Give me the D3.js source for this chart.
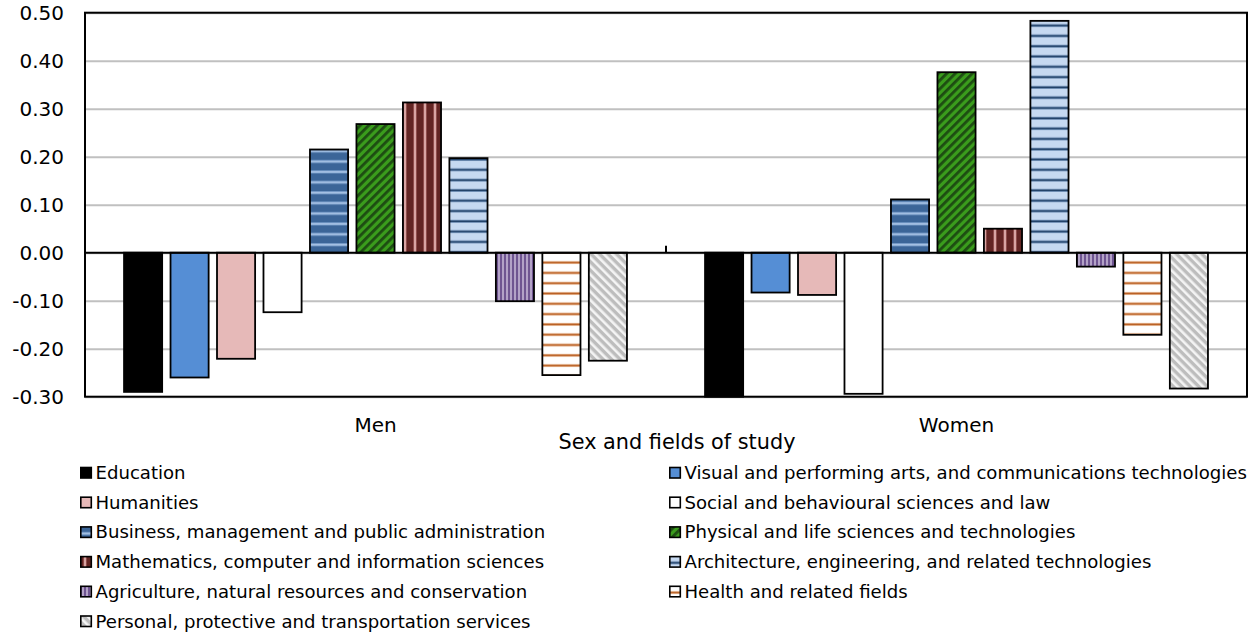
<!DOCTYPE html>
<html>
<head>
<meta charset="utf-8">
<script src="https://cdn.jsdelivr.net/npm/d3@7"></script>
<style>
  body { margin: 0; background: #fff; }
  text { font-family: "DejaVu Sans", Verdana, sans-serif; fill: #000; }
</style>
</head>
<body>
<div id="chart"></div>
<script>
// data
const groups = ["Men", "Women"];
const fields = [
    "Education",
    "Visual and performing arts, and communications technologies",
    "Humanities",
    "Social and behavioural sciences and law",
    "Business, management and public administration",
    "Physical and life sciences and technologies",
    "Mathematics, computer and information sciences",
    "Architecture, engineering, and related technologies",
    "Agriculture, natural resources and conservation",
    "Health and related fields",
    "Personal, protective and transportation services"
];
const menValues = [-0.290, -0.260, -0.221, -0.124, 0.215, 0.268, 0.313, 0.197, -0.101, -0.255, -0.225];
const womenValues = [-0.300, -0.083, -0.088, -0.294, 0.111, 0.376, 0.050, 0.483, -0.029, -0.171, -0.283];
const yTicks = [-0.3, -0.2, -0.1, 0, 0.1, 0.2, 0.3, 0.4, 0.5];
const xTitle = "Sex and fields of study";

const W = 1260, H = 635;
const plot = {l: 85, r: 1247, t: 12.7, b: 396.7};

const svg = d3.select("#chart").append("svg")
    .attr("width", W)
    .attr("height", H);

//Patterns, one per field
const defs = svg.append("defs");
function pat(id, w, h, rot) {
    let p = defs.append("pattern")
        .attr("id", id)
        .attr("patternUnits", "userSpaceOnUse")
        .attr("width", w)
        .attr("height", h);
    if (rot) p.attr("patternTransform", `rotate(${rot})`);
    return p;
}
// business: dark blue, light horizontal stripes
let p = pat("pBus", 10, 10.4);
p.append("rect").attr("width", 10).attr("height", 10.4).attr("fill", "#3b6598");
p.append("rect").attr("y", 4).attr("width", 10).attr("height", 3).attr("fill", "#7fa4d0");
p.append("rect").attr("y", 4.8).attr("width", 10).attr("height", 1.4).attr("fill", "#a9c4e6");
// physical: green with dark diagonals
p = pat("pPhy", 6, 6, 45);
p.append("rect").attr("width", 6).attr("height", 6).attr("fill", "#3a9c1c");
p.append("rect").attr("width", 2.8).attr("height", 6).attr("fill", "#1d4c12");
// math: dark red with pink vertical stripes
p = pat("pMat", 10, 10);
p.append("rect").attr("width", 10).attr("height", 10).attr("fill", "#632523");
p.append("rect").attr("x", 3.5).attr("width", 3).attr("height", 10).attr("fill", "#b87270");
p.append("rect").attr("x", 4.3).attr("width", 1.4).attr("height", 10).attr("fill", "#e6b9b8");
// architecture: light blue with dark horizontal lines
p = pat("pArc", 10, 10.3);
p.append("rect").attr("width", 10).attr("height", 10.3).attr("fill", "#c6d9f1");
p.append("rect").attr("y", 3.5).attr("width", 10).attr("height", 3).attr("fill", "#6f8fb6");
p.append("rect").attr("y", 4.3).attr("width", 10).attr("height", 1.4).attr("fill", "#1f3f66");
// agriculture: narrow purple vertical stripes
p = pat("pAgr", 4, 4);
p.append("rect").attr("width", 4).attr("height", 4).attr("fill", "#b3a2c7");
p.append("rect").attr("width", 2).attr("height", 4).attr("fill", "#6f5591");
// health: white with orange horizontal lines
p = pat("pHea", 10, 10.3);
p.append("rect").attr("width", 10).attr("height", 10.3).attr("fill", "#fff");
p.append("rect").attr("y", 3.6).attr("width", 10).attr("height", 3).attr("fill", "#edc3a2");
p.append("rect").attr("y", 4.3).attr("width", 10).attr("height", 1.6).attr("fill", "#b85e22");
// personal: grey with white diagonals
p = pat("pPer", 6, 6, -45);
p.append("rect").attr("width", 6).attr("height", 6).attr("fill", "#bdbdbd");
p.append("rect").attr("width", 2.6).attr("height", 6).attr("fill", "#f4f4f4");

const fills = ["#000000", "#558ed5", "#e6b9b8", "#ffffff", "url(#pBus)", "url(#pPhy)",
    "url(#pMat)", "url(#pArc)", "url(#pAgr)", "url(#pHea)", "url(#pPer)"];

//Scales
let x0 = d3.scaleBand().domain(groups).range([plot.l, plot.r]);
let x1 = d3.scaleBand().domain(fields).range([0, x0.bandwidth()])
    .paddingInner(0.18).paddingOuter(0.84);
let y = d3.scaleLinear().domain([-0.3, 0.5]).range([plot.b, plot.t]);

const locale = d3.formatLocale({decimal: ".", thousands: ",", grouping: [3], currency: ["", ""], minus: "-"});
const fmt = locale.format(".2f");

//Gridlines
svg.append("g")
    .attr("transform", `translate(${plot.l},0)`)
    .call(d3.axisLeft(y).tickValues(yTicks).tickSize(-(plot.r - plot.l)).tickFormat(""))
    .call(g => g.select(".domain").remove())
    .selectAll("line")
    .attr("stroke", "#c0c0c0")
    .attr("stroke-width", 2);

//Y axis labels
svg.append("g")
    .attr("transform", `translate(${plot.l},0)`)
    .call(d3.axisLeft(y).tickValues(yTicks).tickSize(0).tickPadding(21).tickFormat(fmt))
    .call(g => g.select(".domain").remove())
    .selectAll("text")
    .attr("font-size", 20)
    .attr("font-family", "DejaVu Sans");

//Bars
const rows = [];
groups.forEach(function(g, gi) {
    const vals = gi === 0 ? menValues : womenValues;
    fields.forEach(function(f, fi) {
        rows.push({group: g, field: f, value: vals[fi], fi: fi});
    });
});

svg.append("g").selectAll("rect")
    .data(rows)
    .enter()
    .append("rect")
    .attr("x", d => x0(d.group) + x1(d.field))
    .attr("y", d => y(Math.max(0, d.value)))
    .attr("width", x1.bandwidth())
    .attr("height", d => Math.abs(y(d.value) - y(0)))
    .attr("fill", d => fills[d.fi])
    .attr("stroke", "#000")
    .attr("stroke-width", 1.8);

//Zero line and category tick
svg.append("line")
    .attr("x1", plot.l).attr("x2", plot.r)
    .attr("y1", y(0)).attr("y2", y(0))
    .attr("stroke", "#000").attr("stroke-width", 2);

svg.append("g").selectAll("line")
    .data(groups.slice(1))
    .enter()
    .append("line")
    .attr("x1", d => x0(d)).attr("x2", d => x0(d))
    .attr("y1", y(0) - 7).attr("y2", y(0))
    .attr("stroke", "#000").attr("stroke-width", 2);

//Frame
svg.append("rect")
    .attr("x", plot.l).attr("y", plot.t)
    .attr("width", plot.r - plot.l).attr("height", plot.b - plot.t)
    .attr("fill", "none")
    .attr("stroke", "#000")
    .attr("stroke-width", 2);

//Category labels
svg.append("g").selectAll("text")
    .data(groups)
    .enter()
    .append("text")
    .attr("x", d => x0(d) + x0.bandwidth() / 2)
    .attr("y", 431.5)
    .attr("text-anchor", "middle")
    .attr("font-size", 20)
    .text(d => d);

svg.append("text")
    .attr("x", 677)
    .attr("y", 448.5)
    .attr("text-anchor", "middle")
    .attr("font-size", 20.8)
    .text(xTitle);

//Legend, two columns
const legend = svg.append("g");
let items = legend.selectAll("g")
    .data(fields)
    .enter()
    .append("g")
    .attr("transform", (d, i) => `translate(${i % 2 === 0 ? 80 : 669},${479 + Math.floor(i / 2) * 29.7})`);

items.append("rect")
    .attr("x", 0.8).attr("y", -11.5)
    .attr("width", 10.5).attr("height", 10.5)
    .attr("fill", (d, i) => fills[i])
    .attr("stroke", "#000")
    .attr("stroke-width", 1.6);

items.append("text")
    .attr("x", 15.5)
    .attr("y", 0)
    .attr("font-size", 18.1)
    .text(d => d);
</script>
</body>
</html>
